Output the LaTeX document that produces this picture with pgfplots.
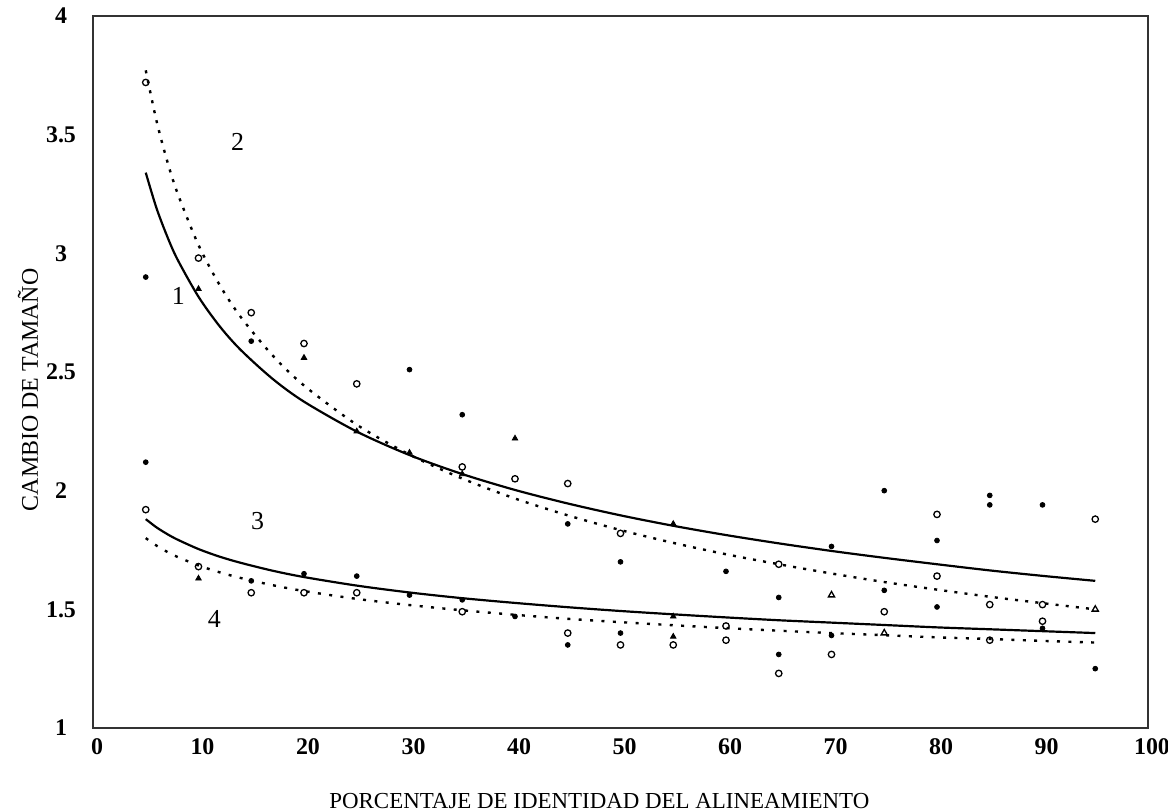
\documentclass[border=0pt]{standalone}
\usepackage{fontspec}
\setmainfont{Liberation Serif}
\usepackage{pgfplots}
\pgfplotsset{compat=1.18}
\begin{document}
\begin{tikzpicture}
\begin{axis}[
  name=ax,
  scale only axis,
  width=527.5bp, height=356bp,
  xmin=0, xmax=100, ymin=1, ymax=4,
  xtick={0,10,...,100},
  ytick={1,1.5,2,2.5,3,3.5,4},
  major tick length=0pt,
  axis line style={line width=0.6pt, black!80},
  /pgf/number format/assume math mode=true,
  ticklabel style={font=\bfseries\fontsize{12}{14}\selectfont},
  yticklabel style={anchor=center, xshift=-16bp},
  xticklabel style={yshift=-2bp, xshift=2bp},
  xlabel={PORCENTAJE DE IDENTIDAD DEL ALINEAMIENTO},
  ylabel={CAMBIO DE TAMAÑO},
  xlabel style={at={(axis description cs:0.48,-0.103)}, anchor=center, font=\fontsize{11.5}{13}\selectfont},
  ylabel style={at={(axis description cs:-0.0616,0.475)}, anchor=center, rotate=0, font=\fontsize{12}{13}\selectfont},
  clip=false,
]
% fitted curve 1 (solid, upper)
\addplot[black, line width=1.1pt, smooth] coordinates {
(5,3.340)(6,3.193)(7,3.075)(8,2.975)(10,2.817)(12,2.693)(14,2.593)(17,2.472)(20,2.375)(25,2.249)(30,2.150)(35,2.070)(40,2.003)(45,1.946)(50,1.896)(55,1.852)(60,1.813)(65,1.778)(70,1.746)(75,1.717)(80,1.690)(85,1.664)(90,1.641)(95,1.620)};
% fitted curve 2 (dotted, upper)
\addplot[black, line width=1.2pt, dash pattern=on 1.5bp off 3.6bp, smooth] coordinates {
(5,3.771)(6,3.562)(7,3.394)(8,3.255)(10,3.035)(12,2.867)(14,2.732)(17,2.571)(20,2.443)(25,2.278)(30,2.152)(35,2.051)(40,1.967)(45,1.896)(50,1.834)(55,1.780)(60,1.732)(65,1.690)(70,1.651)(75,1.615)(80,1.583)(85,1.553)(90,1.526)(95,1.500)};
% fitted curve 3 (solid, lower)
\addplot[black, line width=1.1pt, smooth] coordinates {
(5,1.880)(6,1.846)(7,1.818)(8,1.794)(10,1.754)(12,1.722)(14,1.696)(17,1.663)(20,1.636)(25,1.600)(30,1.571)(35,1.547)(40,1.527)(45,1.509)(50,1.493)(55,1.479)(60,1.466)(65,1.454)(70,1.444)(75,1.434)(80,1.424)(85,1.416)(90,1.408)(95,1.400)};
% fitted curve 4 (dotted, lower)
\addplot[black, line width=1.2pt, dash pattern=on 1.5bp off 4.2bp, smooth] coordinates {
(5,1.800)(6,1.769)(7,1.743)(8,1.721)(10,1.685)(12,1.656)(14,1.632)(17,1.602)(20,1.577)(25,1.544)(30,1.518)(35,1.496)(40,1.477)(45,1.460)(50,1.446)(55,1.433)(60,1.421)(65,1.410)(70,1.400)(75,1.391)(80,1.382)(85,1.375)(90,1.367)(95,1.360)};
% filled dots
\addplot[only marks, mark=*, mark size=1.2bp, black] coordinates {
(5,2.90)(5,2.12)(15,2.63)(15,1.62)(20,1.65)(25,1.64)(30,2.51)(30,1.56)(35,2.32)(35,1.54)(40,1.47)(45,1.86)(45,1.35)(50,1.70)(50,1.40)(60,1.66)(65,1.55)(65,1.31)(70,1.765)(70,1.39)(75,2.00)(75,1.58)(80,1.79)(80,1.51)(85,1.98)(85,1.94)(90,1.94)(90,1.42)(95,1.25)};
% filled triangles
\addplot[only marks, mark=triangle*, mark size=1.6bp, black] coordinates {
(10,2.85)(10,1.63)(20,2.56)(25,2.25)(30,2.16)(35,2.07)(40,2.22)(55,1.86)(55,1.47)(55,1.385)};
% open circles
\addplot[only marks, mark=o, mark size=1.6bp, black, mark options={line width=0.65pt}] coordinates {
(5,3.72)(5,1.92)(10,2.98)(10,1.68)(15,2.75)(15,1.57)(20,2.62)(20,1.57)(25,2.45)(25,1.57)(35,2.10)(35,1.49)(40,2.05)(45,2.03)(45,1.40)(50,1.82)(50,1.35)(55,1.35)(60,1.43)(60,1.37)(65,1.69)(65,1.23)(70,1.31)(75,1.49)(80,1.90)(80,1.64)(85,1.52)(85,1.37)(90,1.52)(90,1.45)(95,1.88)};
% open triangles
\addplot[only marks, mark=triangle, mark size=1.8bp, black, mark options={line width=0.65pt}] coordinates {
(70,1.56)(75,1.40)(95,1.50)};
% curve labels
\node[font=\fontsize{13}{14}\selectfont] at (axis cs:13.7,3.47) {2};
\node[font=\fontsize{13}{14}\selectfont] at (axis cs:8.1,2.82) {1};
\node[font=\fontsize{13}{14}\selectfont] at (axis cs:15.6,1.87) {3};
\node[font=\fontsize{13}{14}\selectfont] at (axis cs:11.5,1.46) {4};
\end{axis}
\pgfresetboundingbox
\path ([shift={(-46.5bp,-41.5bp)}]ax.south west) rectangle ([shift={(10bp,8bp)}]ax.north east);
\end{tikzpicture}
\end{document}
